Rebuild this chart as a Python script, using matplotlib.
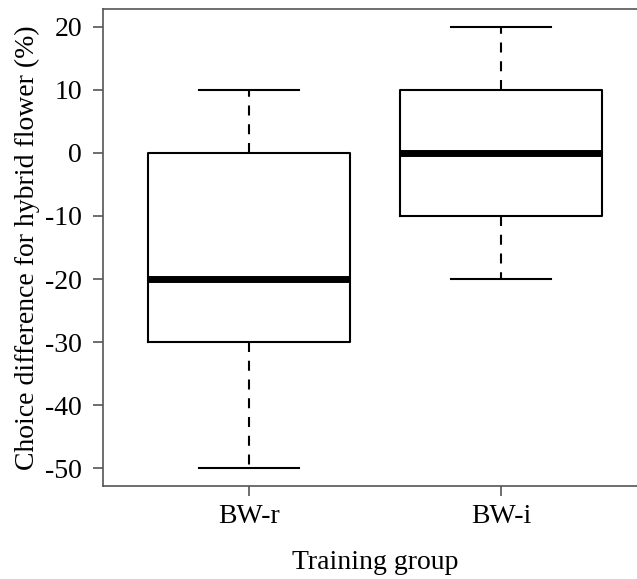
import matplotlib
matplotlib.use("Agg")
import matplotlib.pyplot as plt

groups = ["BW-r", "BW-i"]
whislo = [-50, -20]
q1 = [-30, -10]
med = [-20, 0]
q3 = [0, 10]
whishi = [10, 20]

plt.rcParams['font.family'] = ['Liberation Serif', 'DejaVu Serif']
plt.rcParams['axes.unicode_minus'] = False

fig = plt.figure(figsize=(6.37, 5.79), dpi=100)
ax = fig.add_axes([103/637, 93/579, 544/637, 477/579])

stats = [dict(label=g, whislo=a, q1=b, med=c, q3=d, whishi=e, fliers=[])
         for g, a, b, c, d, e in zip(groups, whislo, q1, med, q3, whishi)]
ax.bxp(stats, positions=[1, 2], widths=0.8, showfliers=False, patch_artist=False,
       boxprops=dict(color='black', linewidth=1.5),
       medianprops=dict(color='black', linewidth=5.0, solid_capstyle='butt'),
       whiskerprops=dict(color='black', linewidth=1.5, linestyle=(0, (4.8, 4.2))),
       capprops=dict(color='black', linewidth=1.5),
       capwidths=0.4)

ax.set_xlim(0.42, 2.58)
ax.set_ylim(-52.8, 22.8)
ax.set_yticks([-50, -40, -30, -20, -10, 0, 10, 20])
ax.set_xticks([1, 2])
ax.set_xticklabels(groups)
for s in ax.spines.values():
    s.set_color('#555555')
    s.set_linewidth(1.2)
ax.tick_params(direction='out', length=7, width=1.2, color='#555555', labelsize=20, pad=8)
ax.tick_params(axis='x', pad=6)
ax.set_ylabel("Choice difference for hybrid flower (%)", fontsize=20, labelpad=4)
ax.set_xlabel("Training group", fontsize=20, labelpad=15)

fig.savefig("out.png", dpi=100)
